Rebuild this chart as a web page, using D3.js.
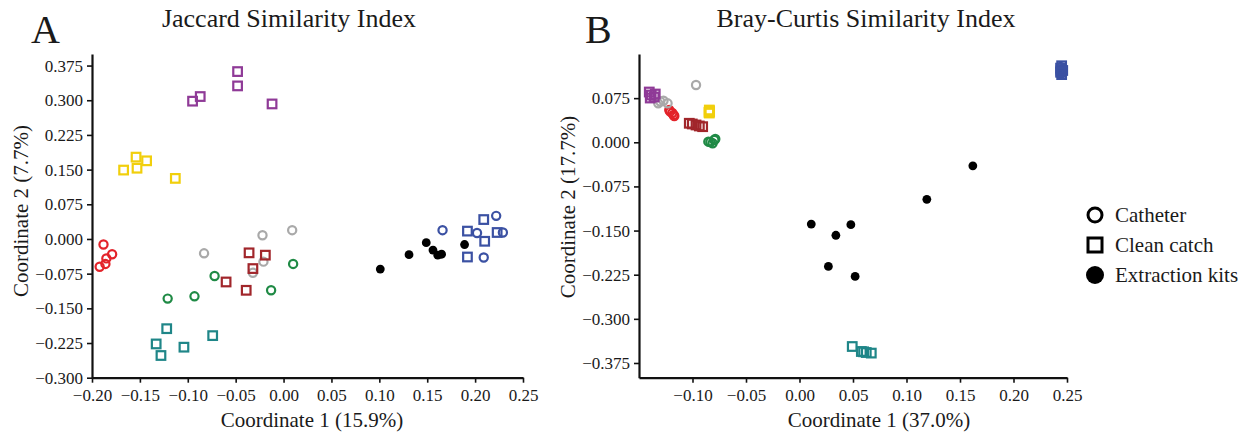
<!DOCTYPE html>
<html>
<head>
<meta charset="utf-8">
<script src="https://cdn.jsdelivr.net/npm/d3@7"></script>
<style>
  html, body { margin: 0; padding: 0; background: #fff; }
  svg, svg text { font-family: "Liberation Serif", "Times New Roman", serif !important; }
</style>
</head>
<body>
<svg id="chart" width="1250" height="435"></svg>
<script>
// ---------- DATA ----------
// Panel A: Jaccard
const jacRedCirc    = [[-0.188,-0.012],[-0.179,-0.033],[-0.185,-0.042],[-0.186,-0.054],[-0.192,-0.060]];
const jacGreyCirc   = [[-0.083,-0.031],[-0.022,0.008],[0.009,0.019],[-0.021,-0.049],[-0.032,-0.073]];
const jacGreenCirc  = [[-0.072,-0.080],[-0.093,-0.124],[-0.121,-0.129],[-0.013,-0.111],[0.010,-0.054]];
const jacBlueCirc   = [[0.166,0.019],[0.202,0.013],[0.222,0.050],[0.229,0.014],[0.209,-0.040]];
const jacPurpleSq   = [[-0.095,0.298],[-0.087,0.308],[-0.048,0.362],[-0.048,0.331],[-0.012,0.292]];
const jacYellowSq   = [[-0.167,0.149],[-0.154,0.177],[-0.153,0.153],[-0.143,0.169],[-0.113,0.131]];
const jacDarkRedSq  = [[-0.036,-0.030],[-0.019,-0.035],[-0.032,-0.064],[-0.060,-0.093],[-0.039,-0.111]];
const jacTealSq     = [[-0.122,-0.194],[-0.133,-0.227],[-0.128,-0.252],[-0.104,-0.234],[-0.074,-0.209]];
const jacBlueSq     = [[0.192,0.017],[0.209,0.042],[0.210,-0.005],[0.223,0.014],[0.192,-0.039]];
const jacKits       = [[0.101,-0.065],[0.131,-0.034],[0.149,-0.008],[0.156,-0.024],[0.161,-0.035],[0.165,-0.033],[0.189,-0.012]];

// Panel B: Bray-Curtis
const bcRedCirc     = [[-0.1208,0.052],[-0.1177,0.0463],[-0.1189,0.0497],[-0.1217,0.0548],[-0.117,0.0447]];
const bcGreyCirc    = [[-0.132,0.0662],[-0.1271,0.0706],[-0.1233,0.0662],[-0.0967,0.0973],[-0.1301,0.0693]];
const bcGreenCirc   = [[-0.0852,0.001],[-0.0796,0.0039],[-0.0812,-0.0017],[-0.0833,0.0005],[-0.0787,0.0056]];
const bcBlueCirc    = [[0.244,0.128],[0.245,0.124],[0.246,0.120],[0.244,0.116],[0.245,0.118]];
const bcPurpleSq    = [[-0.1404,0.0854],[-0.1386,0.0803],[-0.1358,0.0769],[-0.1395,0.0752],[-0.1348,0.082]];
const bcYellowSq    = [[-0.0843,0.0548],[-0.0843,0.0497],[-0.0840,0.0520],[-0.0846,0.0510],[-0.0841,0.0535]];
const bcDarkRedSq   = [[-0.103,0.0323],[-0.0967,0.0294],[-0.0905,0.0265],[-0.1002,0.0311],[-0.0936,0.0277]];
const bcTealSq      = [[0.0493,-0.347],[0.0578,-0.3555],[0.0624,-0.3572],[0.0671,-0.3582],[0.0599,-0.356]];
const bcBlueSq      = [[0.245,0.130],[0.244,0.126],[0.246,0.122],[0.245,0.115],[0.244,0.119]];
const bcKits        = [[0.011,-0.139],[0.034,-0.158],[0.048,-0.140],[0.027,-0.211],[0.052,-0.228],[0.119,-0.097],[0.162,-0.040]];

// Groups: colour + shape
const groupColors = ["#e3232a", "#a9a9a9", "#1f8a45", "#3b51a3", "#8f3a97", "#f1cf0c", "#a1262b", "#1f8688", "#3b51a3", "#000000"];
const groupShapes = ["circle", "circle", "circle", "circle", "square", "square", "square", "square", "square", "dot"];
const jaccardGroups = [jacRedCirc, jacGreyCirc, jacGreenCirc, jacBlueCirc, jacPurpleSq, jacYellowSq, jacDarkRedSq, jacTealSq, jacBlueSq, jacKits];
const brayGroups    = [bcRedCirc, bcGreyCirc, bcGreenCirc, bcBlueCirc, bcPurpleSq, bcYellowSq, bcDarkRedSq, bcTealSq, bcBlueSq, bcKits];

// Ticks
const jacXTicks = [-0.20, -0.15, -0.10, -0.05, 0.00, 0.05, 0.10, 0.15, 0.20, 0.25];
const jacYTicks = [-0.300, -0.225, -0.150, -0.075, 0.000, 0.075, 0.150, 0.225, 0.300, 0.375];
const bcXTicks  = [-0.10, -0.05, 0.00, 0.05, 0.10, 0.15, 0.20, 0.25];
const bcYTicks  = [-0.375, -0.300, -0.225, -0.150, -0.075, 0.000, 0.075];

const legendLabels = ["Catheter", "Clean catch", "Extraction kits"];
const legendShapes = ["circle", "square", "dot"];

// ---------- DRAW ----------
const FONT = "Liberation Serif, Times New Roman, serif";
const svg = d3.select("#chart");
svg.append("rect").attr("width", 1250).attr("height", 435).attr("fill", "#fff");
const textColor = "#1a1a1a";

function drawPanel(cfg) {
  const x = d3.scaleLinear().domain(cfg.xDomain).range(cfg.xRange);
  const y = d3.scaleLinear().domain(cfg.yDomain).range(cfg.yRange);
  const g = svg.append("g");

  const xAxis = d3.axisBottom(x).tickValues(cfg.xTicks).tickFormat(d3.format(".2f"))
    .tickSizeOuter(0).tickSizeInner(5).tickPadding(4);
  const yAxis = d3.axisLeft(y).tickValues(cfg.yTicks).tickFormat(d3.format(".3f"))
    .tickSizeOuter(0).tickSizeInner(5).tickPadding(4);

  const gx = g.append("g").attr("transform", `translate(0,${cfg.yRange[0]})`).call(xAxis);
  const gy = g.append("g").attr("transform", `translate(${cfg.xRange[0]},0)`).call(yAxis);
  [gx, gy].forEach(ax => {
    ax.attr("font-family", FONT).attr("font-size", 17);
    ax.select(".domain").attr("stroke", "#111").attr("stroke-width", 2.2);
    ax.selectAll(".tick line").attr("stroke", "#111").attr("stroke-width", 1.6);
    ax.selectAll(".tick text").attr("fill", textColor).attr("font-family", FONT);
  });
  gx.selectAll(".tick text").attr("dy", "0.85em");

  // points
  cfg.groups.forEach((pts, i) => {
    const col = groupColors[i], shp = groupShapes[i];
    const sel = g.append("g").selectAll("g").data(pts).join("g")
      .attr("transform", d => `translate(${x(d[0])},${y(d[1])})`);
    if (shp === "circle") {
      sel.append("circle").attr("r", 4.1).attr("fill", "none").attr("stroke", col).attr("stroke-width", 2.2);
    } else if (shp === "square") {
      sel.append("rect").attr("x", -4.3).attr("y", -4.3).attr("width", 8.6).attr("height", 8.6)
        .attr("fill", "none").attr("stroke", col).attr("stroke-width", 2.2);
    } else {
      sel.append("circle").attr("r", 4.4).attr("fill", col);
    }
  });

  // titles & labels
  svg.append("text").attr("x", cfg.letterX).attr("y", 43).text(cfg.letter)
    .attr("font-family", FONT).attr("fill", textColor).attr("font-size", 40);
  svg.append("text").attr("x", cfg.titleX).attr("y", 27).attr("text-anchor", "middle").text(cfg.title)
    .attr("font-family", FONT).attr("fill", textColor).attr("font-size", 26);
  svg.append("text").attr("x", cfg.xLabelX).attr("y", 427).attr("text-anchor", "middle").text(cfg.xLabel)
    .attr("font-family", FONT).attr("fill", textColor).attr("font-size", 21);
  svg.append("text").attr("transform", `translate(${cfg.yLabelX},${cfg.yLabelY}) rotate(-90)`)
    .attr("text-anchor", "middle").text(cfg.yLabel)
    .attr("font-family", FONT).attr("fill", textColor).attr("font-size", 21);
}

drawPanel({
  xDomain: [-0.2, 0.25], xRange: [92, 523],
  yDomain: [-0.3, 0.4], yRange: [377.7, 54],
  xTicks: jacXTicks, yTicks: jacYTicks, groups: jaccardGroups,
  letter: "A", letterX: 31, title: "Jaccard Similarity Index", titleX: 289,
  xLabel: "Coordinate 1 (15.9%)", xLabelX: 312,
  yLabel: "Coordinate 2 (7.7%)", yLabelX: 28, yLabelY: 211
});

drawPanel({
  xDomain: [-0.15, 0.25], xRange: [639, 1067],
  yDomain: [-0.4, 0.15], yRange: [377.7, 54],
  xTicks: bcXTicks, yTicks: bcYTicks, groups: brayGroups,
  letter: "B", letterX: 585, title: "Bray-Curtis Similarity Index", titleX: 866,
  xLabel: "Coordinate 1 (37.0%)", xLabelX: 879,
  yLabel: "Coordinate 2 (17.7%)", yLabelX: 575, yLabelY: 207
});

// legend
const leg = svg.append("g");
legendLabels.forEach((lab, i) => {
  const cy = 215 + i * 30;
  const s = legendShapes[i];
  if (s === "circle") {
    leg.append("circle").attr("cx", 1095).attr("cy", cy).attr("r", 7).attr("fill", "none")
      .attr("stroke", "#000").attr("stroke-width", 3);
  } else if (s === "square") {
    leg.append("rect").attr("x", 1088).attr("y", cy - 7).attr("width", 14).attr("height", 14)
      .attr("fill", "none").attr("stroke", "#000").attr("stroke-width", 3);
  } else {
    leg.append("circle").attr("cx", 1095).attr("cy", cy).attr("r", 9).attr("fill", "#000");
  }
  leg.append("text").attr("x", 1115).attr("y", cy + 7).text(lab)
    .attr("font-family", FONT).attr("fill", textColor).attr("font-size", 21);
});
</script>
</body>
</html>
